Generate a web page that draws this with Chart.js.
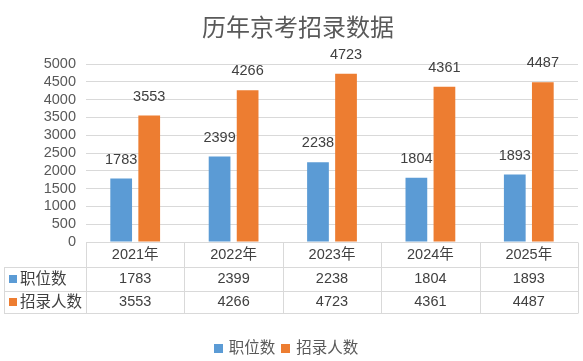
<!DOCTYPE html>
<html><head><meta charset="utf-8">
<script src="https://cdn.jsdelivr.net/npm/chart.js@4/dist/chart.umd.min.js"></script>
<style>html,body{margin:0;padding:0;background:#fff}#wrap{width:583px;height:361px;position:relative}canvas{display:block}</style>
</head><body><div id="wrap"><canvas id="c" width="583" height="361"></canvas></div>
<script>
const chartTitle = '历年京考招录数据';
const categories = ['2021年', '2022年', '2023年', '2024年', '2025年'];
const seriesNames = ['职位数', '招录人数'];
const positions = [1783, 2399, 2238, 1804, 1893];
const hires = [3553, 4266, 4723, 4361, 4487];
const yTicks = [0, 500, 1000, 1500, 2000, 2500, 3000, 3500, 4000, 4500, 5000];
const seriesColors = ['#5B9BD5', '#ED7D31'];

const NUM_FONT = "14.5px 'Liberation Sans', 'Noto Sans CJK SC', sans-serif";
const CJK_FONT = "15.5px 'Liberation Sans', 'Noto Sans CJK SC', sans-serif";
const GRID = '#d9d9d9';

const extras = {
  id: 'extras',
  afterDraw(chart) {
    const ctx = chart.ctx;
    const ca = chart.chartArea;
    const xs = chart.scales.x;
    ctx.save();
    // Title
    ctx.font = "24px 'Noto Sans CJK SC', sans-serif";
    ctx.fillStyle = '#595959';
    ctx.textAlign = 'center';
    ctx.textBaseline = 'middle';
    ctx.fillText(chartTitle, 298, 27);

    // Data labels
    ctx.font = NUM_FONT;
    ctx.fillStyle = '#404040';
    chart.data.datasets.forEach((ds, di) => {
      const meta = chart.getDatasetMeta(di);
      meta.data.forEach((el, i) => {
        ctx.fillText(String(ds.data[i]), el.x, el.y - 19);
      });
    });

    // Data table
    const n = categories.length;
    const bounds = [ca.left];
    for (let i = 0; i < n - 1; i++) {
      bounds.push((xs.getPixelForValue(i) + xs.getPixelForValue(i + 1)) / 2);
    }
    bounds.push(ca.right);
    const y0 = ca.bottom, y1 = ca.bottom + 25, y2 = ca.bottom + 48.5, y3 = ca.bottom + 71;
    const tLeft = 4;
    ctx.strokeStyle = GRID;
    ctx.lineWidth = 1;
    ctx.beginPath();
    const hl = (xa, xb, y) => { const yy = Math.round(y) + 0.5; ctx.moveTo(xa, yy); ctx.lineTo(xb, yy); };
    const vl = (x, ya, yb) => { const xx = Math.round(x) + 0.5; ctx.moveTo(xx, Math.round(ya) + 0.5); ctx.lineTo(xx, Math.round(yb) + 0.5); };
    hl(ca.left, ca.right, y0);
    hl(tLeft, ca.right, y1);
    hl(tLeft, ca.right, y2);
    hl(tLeft, ca.right, y3);
    vl(tLeft, y1, y3);
    bounds.forEach(b => vl(b, y0, y3));
    ctx.stroke();

    ctx.fillStyle = '#404040';
    ctx.textAlign = 'center';
    ctx.textBaseline = 'middle';
    categories.forEach((c, i) => {
      const cx = xs.getPixelForValue(i);
      ctx.font = NUM_FONT;
      ctx.fillText(c, cx, (y0 + y1) / 2 + 0.5);
      ctx.fillText(String(positions[i]), cx, (y1 + y2) / 2 + 0.5);
      ctx.fillText(String(hires[i]), cx, (y2 + y3) / 2 + 0.5);
    });
    // row headers
    const rows = [(y1 + y2) / 2, (y2 + y3) / 2];
    seriesNames.forEach((s, i) => {
      ctx.fillStyle = seriesColors[i];
      ctx.fillRect(9, Math.round(rows[i] - 4), 8, 8);
      ctx.fillStyle = '#404040';
      ctx.textAlign = 'left';
      ctx.font = CJK_FONT;
      ctx.fillText(s, 20, rows[i] + 0.5);
    });

    // Legend
    ctx.font = CJK_FONT;
    const box = 9, gapBoxText = 6, gapItems = 6;
    const widths = seriesNames.map(s => ctx.measureText(s).width);
    const total = seriesNames.length * (box + gapBoxText) + widths.reduce((a, b) => a + b, 0) + gapItems * (seriesNames.length - 1);
    let lx = 286 - total / 2;
    const ly = 348;
    seriesNames.forEach((s, i) => {
      ctx.fillStyle = seriesColors[i];
      ctx.fillRect(Math.round(lx), Math.round(ly - box / 2), box, box);
      lx += box + gapBoxText;
      ctx.fillStyle = '#595959';
      ctx.textAlign = 'left';
      ctx.fillText(s, lx, ly + 0.5);
      lx += widths[i] + gapItems;
    });
    ctx.restore();
  }
};

new Chart(document.getElementById('c'), {
  type: 'bar',
  data: {
    labels: categories,
    datasets: [
      { label: seriesNames[0], data: positions, backgroundColor: seriesColors[0] },
      { label: seriesNames[1], data: hires, backgroundColor: seriesColors[1] }
    ]
  },
  options: {
    responsive: false,
    animation: false,
    devicePixelRatio: 1,
    layout: { padding: { top: 64, bottom: 119, left: 0, right: 5 } },
    datasets: { bar: { categoryPercentage: 0.57, barPercentage: 0.775 } },
    plugins: { legend: { display: false }, title: { display: false }, tooltip: { enabled: false } },
    scales: {
      x: { display: false, grid: { display: false } },
      y: {
        min: yTicks[0], max: yTicks[yTicks.length - 1],
        afterBuildTicks(s) { s.ticks = yTicks.map(v => ({ value: v })); },
        ticks: {
          autoSkip: false,
          padding: 10, color: '#595959',
          font: { family: "'Liberation Sans', sans-serif", size: 14.5 },
          callback: v => String(v)
        },
        grid: { color: GRID, drawTicks: false, lineWidth: 1 },
        border: { display: false },
        afterFit(s) { s.width = 86; }
      }
    }
  },
  plugins: [extras]
});
</script>
</body></html>
